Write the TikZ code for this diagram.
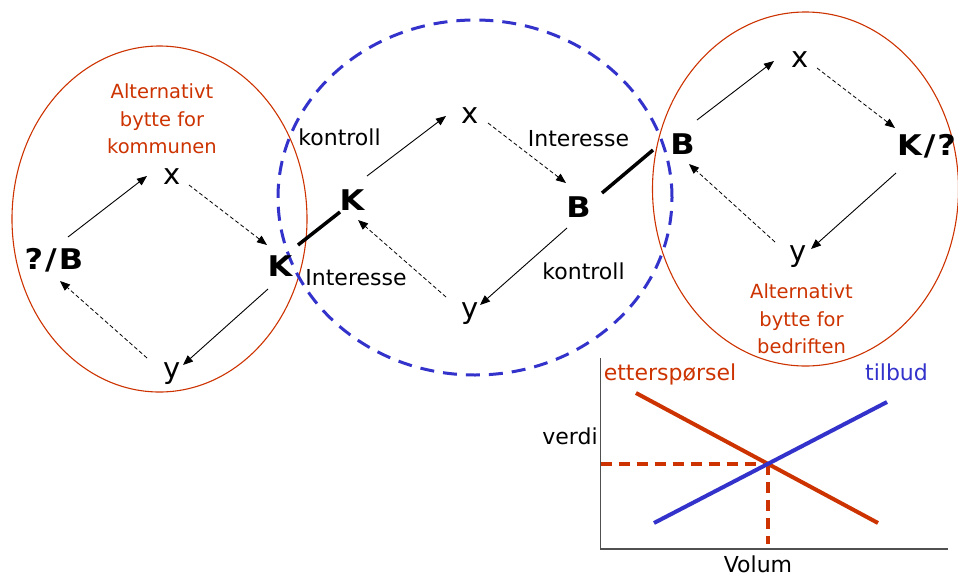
\documentclass[tikz,border=0pt]{standalone}
\usepackage{fontspec}
\setmainfont{DejaVu Sans}
\newfontfamily\actorfont{DejaVu Sans}[FakeStretch=1.12]
\usetikzlibrary{arrows.meta,calc}
\definecolor{rd}{HTML}{CC3300}
\definecolor{bl}{HTML}{3333CC}
\definecolor{axisgray}{HTML}{505050}
\begin{document}
\begin{tikzpicture}[x=1pt,y=-1pt,
  lbl/.style={font=\fontsize{22}{26}\selectfont, inner sep=0pt},
  var/.style={font=\fontsize{29}{32}\selectfont, inner sep=0pt},
  actor/.style={font=\actorfont\fontsize{28.5}{32}\selectfont\bfseries, inner sep=0pt},
  alt/.style={font=\fontsize{19.5}{27.5}\selectfont, text=rd, align=center, inner sep=0pt},
  sarrow/.style={line width=0.9pt, -{Triangle[length=10pt,width=8pt]}},
  darrow/.style={line width=0.8pt, dash pattern=on 4pt off 2.5pt, -{Triangle[length=10pt,width=8pt]}},
  linkline/.style={line width=3.5pt},
  ring/.style={draw=rd, line width=1.1pt},
  bluering/.style={draw=bl, line width=3pt, dash pattern=on 14pt off 9pt},
  curve/.style={line width=4pt},
  guide/.style={draw=rd, line width=4pt, dash pattern=on 11pt off 7pt},
  axisline/.style={draw=axisgray, line width=1.5pt}
]
\useasboundingbox (0,0) rectangle (958,576);

% rings
\draw[ring] (159.5,219) ellipse [x radius=147.5pt, y radius=173pt];
\draw[ring] (805.5,189) ellipse [x radius=153pt, y radius=177pt];
\draw[bluering] (475,197.5) ellipse [x radius=197pt, y radius=177.5pt];

% left diamond
\node[actor] (pb) at (54,260) {?\kern2pt/\kern2pt B};
\node[var]   (x1) at (172.5,176.5) {x};
\node[actor] (k1) at (280,266) {K};
\node[var]   (y1) at (172,374) {y};
\node[alt]   (altk) at (162,119) {Alternativt\\bytte for\\kommunen};

\draw[sarrow] ([shift={(14,-23)}]pb.center) -- ([shift={(-25.5,-0.5)}]x1.center);
\draw[darrow] ([shift={(16.5,8.5)}]x1.center) -- ([shift={(-13,-21)}]k1.center);
\draw[sarrow] ([shift={(-12,23)}]k1.center) -- ([shift={(11,-9)}]y1.center);
\draw[darrow] ([shift={(-25,-16)}]y1.center) -- ([shift={(6,21)}]pb.center);

% middle diamond
\node[actor] (k2) at (352,200.5) {K};
\node[var]   (x2) at (470.5,115.5) {x};
\node[actor] (b2) at (578.5,207) {B};
\node[var]   (y2) at (470,313.5) {y};
\node[lbl] (ktop) at (339.5,137.5) {kontroll};
\node[lbl] (itop) at (578.5,139) {Interesse};
\node[lbl] (ibot) at (356,277.5) {Interesse};
\node[lbl] (kbot) at (583.5,271) {kontroll};

\draw[sarrow] ([shift={(15,-24.5)}]k2.center) -- ([shift={(-24.5,0.5)}]x2.center);
\draw[darrow] ([shift={(17.5,7.5)}]x2.center) -- ([shift={(-12.5,-24)}]b2.center);
\draw[sarrow] ([shift={(-11.5,21)}]b2.center) -- ([shift={(10,-8.5)}]y2.center);
\draw[darrow] ([shift={(-24,-16.5)}]y2.center) -- ([shift={(6,19.5)}]k2.center);

% right diamond
\node[actor] (b3) at (682.5,144) {B};
\node[var]   (x3) at (800,60) {x};
\node[actor] (kq) at (926.5,146.5) {K\kern2pt/\kern2pt?};
\node[var]   (y3) at (798.5,256.5) {y};
\node[alt]   (altb) at (801.5,319) {Alternativt\\bytte for\\bedriften};

\draw[sarrow] ([shift={(14.5,-24)}]b3.center) -- ([shift={(-26,1)}]x3.center);
\draw[darrow] ([shift={(17,8)}]x3.center) -- ([shift={(-31.5,-18.5)}]kq.center);
\draw[sarrow] ([shift={(-30.5,26.5)}]kq.center) -- ([shift={(12.5,-7.5)}]y3.center);
\draw[darrow] ([shift={(-23.5,-14.5)}]y3.center) -- ([shift={(6.5,20)}]b3.center);

% links between diamonds
\draw[linkline] ([shift={(18,-21)}]k1.center) -- ([shift={(-12,11.5)}]k2.center);
\draw[linkline] ([shift={(23.5,-14)}]b2.center) -- ([shift={(-29.5,6)}]b3.center);

% supply / demand chart
\coordinate (atop) at (600.5,358);
\coordinate (aorig) at (600.5,549);
\coordinate (aend) at (948,549);
\coordinate (d1) at (636,393);
\coordinate (d2) at (878,523);
\coordinate (s1) at (654,523);
\coordinate (s2) at (887,402);
\coordinate (eq) at (intersection of d1--d2 and s1--s2);
\coordinate (vbot) at (766,544);

\draw[axisline] (atop) -- (aorig) -- (aend);
\draw[guide] (eq -| aorig) -- (eq);
\draw[guide] (eq) -- (eq |- vbot);
\draw[curve, rd] (d1) -- (d2);
\draw[curve, bl] (s1) -- (s2);

\node[lbl, text=rd] (eterm) at (670,374) {etterspørsel};
\node[lbl, text=bl] (tterm) at (896.5,372.5) {tilbud};
\node[lbl] (verdi) at (570,436) {verdi};
\node[lbl] (volum) at (758,564) {Volum};
\end{tikzpicture}
\end{document}
